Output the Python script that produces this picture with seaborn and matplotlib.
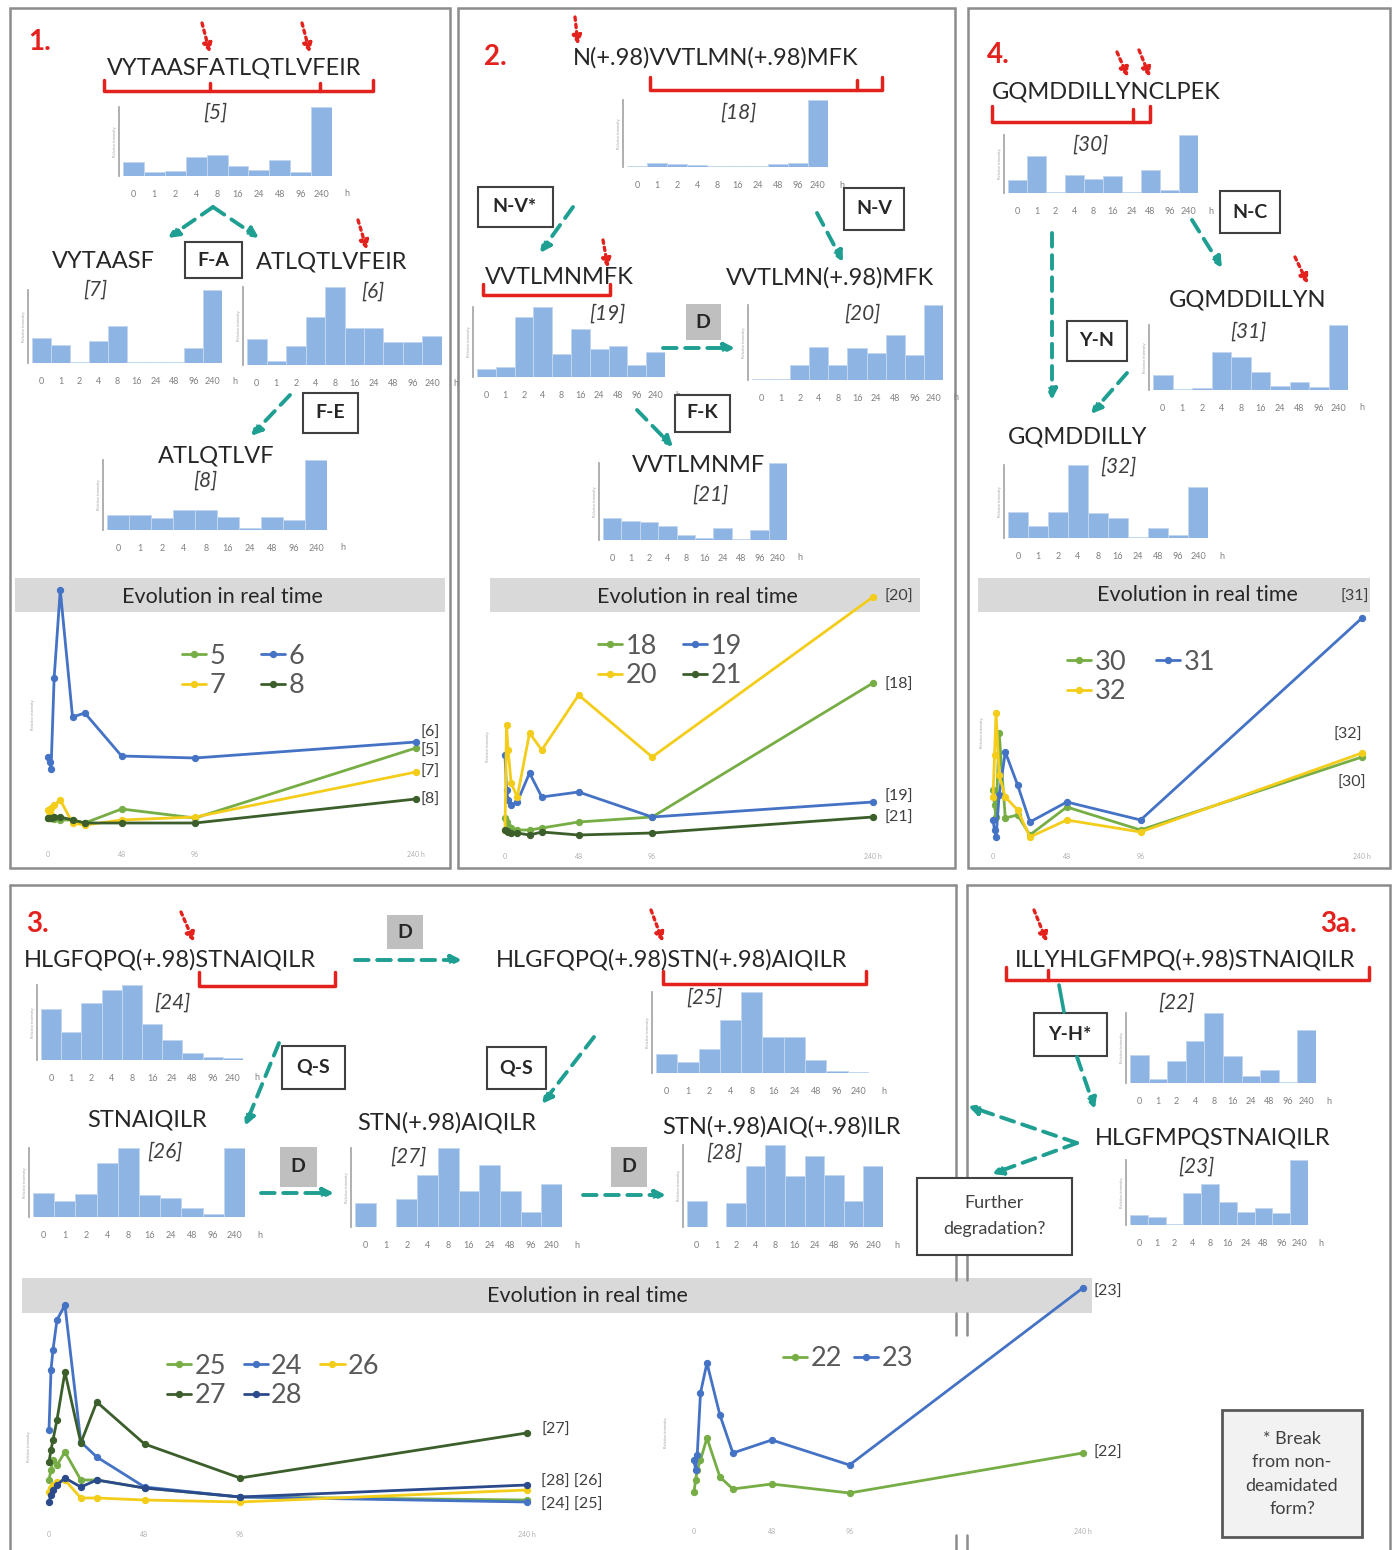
import matplotlib
import matplotlib.pyplot as plt
from matplotlib.patches import Rectangle
import pandas as pd
import seaborn as sns

matplotlib.use('agg')

W, H = 1395, 1550

hours = [0, 1, 2, 4, 8, 16, 24, 48, 96, 240]
hour_labels = ['0', '1', '2', '4', '8', '16', '24', '48', '96', '240']

# relative intensity per sampling time (bar charts)
h5 = [0.20, 0.06, 0.07, 0.28, 0.30, 0.14, 0.08, 0.23, 0.06, 1.0]
h7 = [0.34, 0.25, 0.02, 0.30, 0.50, 0.02, 0.02, 0.01, 0.20, 1.0]
h6 = [0.33, 0.05, 0.25, 0.62, 1.0, 0.47, 0.47, 0.30, 0.30, 0.37]
h8 = [0.21, 0.21, 0.17, 0.28, 0.28, 0.19, 0.03, 0.19, 0.15, 1.0]
h18 = [0.02, 0.06, 0.05, 0.03, 0.01, 0.01, 0.02, 0.05, 0.06, 1.0]
h19 = [0.12, 0.14, 0.86, 1.0, 0.33, 0.69, 0.40, 0.45, 0.17, 0.36]
h20 = [0.01, 0.01, 0.20, 0.44, 0.20, 0.43, 0.36, 0.60, 0.33, 1.0]
h21 = [0.28, 0.25, 0.24, 0.18, 0.07, 0.02, 0.15, 0.01, 0.13, 1.0]
h30 = [0.23, 0.63, 0.02, 0.31, 0.25, 0.29, 0.02, 0.40, 0.05, 1.0]
h31 = [0.23, 0.01, 0.03, 0.59, 0.50, 0.27, 0.06, 0.12, 0.04, 1.0]
h32 = [0.36, 0.16, 0.36, 1.0, 0.34, 0.27, 0.01, 0.14, 0.04, 0.70]
h24 = [0.68, 0.38, 0.76, 0.93, 1.0, 0.48, 0.27, 0.10, 0.04, 0.03]
h25 = [0.24, 0.14, 0.30, 0.66, 1.0, 0.44, 0.44, 0.16, 0.02, 0.01]
h26 = [0.35, 0.23, 0.34, 0.78, 1.0, 0.32, 0.28, 0.13, 0.04, 1.0]
h27 = [0.30, 0.0, 0.35, 0.66, 1.0, 0.45, 0.79, 0.45, 0.19, 0.54]
h28 = [0.32, 0.0, 0.29, 0.74, 1.0, 0.62, 0.87, 0.63, 0.32, 0.74]
h22 = [0.40, 0.06, 0.31, 0.60, 1.0, 0.38, 0.10, 0.19, 0.01, 0.76]
h23 = [0.15, 0.13, 0.02, 0.49, 0.63, 0.36, 0.20, 0.26, 0.18, 1.0]

# evolution in real time (arbitrary intensity units)
s5 = [12, 14, 13, 11, 10, 10, 7, 21, 12, 82]
s6 = [73, 68, 61, 152, 240, 113, 117, 74, 72, 88]
s7 = [20, 17, 22, 25, 30, 7, 5, 10, 13, 58]
s8 = [12, 12, 12, 13, 13, 10, 7, 7, 7, 31]

s18 = [22, 18, 14, 12, 10, 10, 12, 18, 23, 157]
s19 = [85, 50, 40, 35, 38, 67, 43, 48, 23, 38]
s20 = [10, 115, 90, 57, 43, 107, 90, 145, 83, 243]
s21 = [10, 9, 8, 7, 7, 5, 8, 5, 7, 23]

s30 = [55, 40, 28, 112, 27, 30, 10, 38, 15, 88]
s31 = [25, 15, 8, 50, 93, 60, 23, 43, 25, 227]
s32 = [48, 90, 132, 70, 48, 35, 8, 25, 13, 92]

s24 = [80, 140, 160, 190, 205, 68, 53, 23, 13, 8]
s25 = [30, 40, 50, 45, 58, 30, 30, 22, 13, 10]
s26 = [18, 22, 25, 28, 30, 12, 12, 10, 8, 20]
s27 = [48, 60, 70, 90, 138, 67, 108, 66, 32, 77]
s28 = [8, 15, 20, 25, 32, 23, 30, 22, 13, 25]

s22 = [8, 20, 30, 40, 62, 23, 11, 16, 7, 47]
s23 = [40, 30, 45, 107, 137, 85, 47, 60, 35, 212]

BAR = '#8db4e2'
BAR_EDGE = '#c3d6ef'
GREEN = '#77ad45'
BLUE = '#4472c4'
YELLOW = '#f3cd19'
DKGREEN = '#3b5e2b'
DKBLUE = '#2b4a8b'
RED = '#e3211d'
TEAL = '#1f9e92'
INK = '#262626'
GREYBAR = '#d9d9d9'

sns.set_theme(style='white')
plt.rcParams['font.family'] = ['Lato', 'DejaVu Sans']

fig = plt.figure(figsize=(W / 100, H / 100), dpi=100)

bg = fig.add_axes([0, 0, 1, 1])
bg.set_xlim(0, W)
bg.set_ylim(H, 0)
bg.axis('off')


def px_axes(l, r, t, b):
    ax = fig.add_axes([l / W, 1 - b / H, (r - l) / W, (b - t) / H])
    ax.patch.set_alpha(0)
    return ax


def histogram(values, l, r, t, b):
    ax = px_axes(l, r, t, b)
    df = pd.DataFrame({'time': hour_labels, 'intensity': values})
    sns.barplot(data=df, x='time', y='intensity', order=hour_labels, color=BAR,
                saturation=1, width=1.0, edgecolor=BAR_EDGE, linewidth=0.7, ax=ax)
    ax.set_xlim(-0.5, 9.5)
    ax.set_ylim(0, 1)
    ax.set_xlabel('')
    ax.set_ylabel('Relative intensity', fontsize=3, color='#a0a0a0', labelpad=1)
    ax.set_yticks([])
    ax.tick_params(axis='x', length=0, pad=10, labelsize=6.5, labelcolor='#808080')
    for side in ['top', 'right', 'bottom']:
        ax.spines[side].set_visible(False)
    ax.spines['left'].set_color('#a6a6a6')
    ax.spines['left'].set_position(('outward', 3))
    ax.annotate('h', xy=(10.2, 0), xycoords=('data', 'axes fraction'), xytext=(0, -18),
                textcoords='offset pixels', ha='center', va='center', fontsize=6.5,
                color='#808080', annotation_clip=False)
    return ax


def timeline(series, colors, names, order, x0, slope, base, top, tick_y, legend_xy, ncol, colsp):
    pad_l, pad_r = 12, 14
    ax = px_axes(x0 - pad_l, x0 + 240 * slope + pad_r, base - top - 8, base + 6)
    for vals, col, name in zip(series, colors, names):
        sns.lineplot(x=hours, y=vals, color=col, marker='o', markersize=4.5,
                     markeredgecolor=col, linewidth=2.0, label=name, ax=ax)
    ax.set_xlim(-pad_l / slope, 240 + pad_r / slope)
    ax.set_ylim(-6, top + 8)
    ax.set_xticks([0, 48, 96, 240])
    ax.set_xticklabels(['0', '48', '96', '240 h'])
    ax.tick_params(axis='x', length=0, pad=(tick_y - base - 10) / 1.389,
                   labelsize=5, labelcolor='#b0b0b0')
    ax.set_yticks([])
    ax.set_xlabel('')
    ax.set_ylabel('')
    sns.despine(ax=ax, left=True, bottom=True)
    handles, labels = ax.get_legend_handles_labels()
    ax.legend([handles[i] for i in order], [labels[i] for i in order], loc='center',
              bbox_to_anchor=(legend_xy[0] / W, 1 - legend_xy[1] / H),
              bbox_transform=fig.transFigure, ncol=ncol, frameon=False, fontsize=19.5,
              handlelength=0.9, handletextpad=0.12, columnspacing=colsp,
              labelspacing=0.18, labelcolor='#595959', borderpad=0)
    return ax


# ---- backgrounds: panel frames and grey headers
FRAME = '#8c8c8c'
for (l, r, t, b) in [(10, 450, 8, 868), (458, 955, 8, 868), (968, 1390, 8, 868)]:
    bg.add_patch(Rectangle((l, t), r - l, b - t, fill=False, edgecolor=FRAME, lw=1.8))
bg.plot([10, 956], [885, 885], color=FRAME, lw=1.8)
bg.plot([967, 1390], [885, 885], color=FRAME, lw=1.8)
bg.plot([10, 10], [885, 1560], color=FRAME, lw=1.8)
bg.plot([1390, 1390], [885, 1560], color=FRAME, lw=1.8)
for xb in [956, 967]:
    for (y1, y2) in [(885, 1280), (1313, 1335), (1535, 1560)]:
        bg.plot([xb, xb], [y1, y2], color=FRAME, lw=1.8)

for (l, r, t, b) in [(15, 445, 578, 612), (490, 920, 578, 612), (978, 1370, 578, 612),
                     (22, 1092, 1278, 1313)]:
    bg.add_patch(Rectangle((l, t), r - l, b - t, facecolor=GREYBAR, edgecolor='none'))

# ---- bar charts
histogram(h5, 123, 332, 107, 176)
histogram(h7, 32, 222, 290, 363)
histogram(h6, 247, 442, 287, 365)
histogram(h8, 107, 327, 460, 530)
histogram(h18, 627, 828, 100, 167)
histogram(h19, 477, 665, 307, 377)
histogram(h20, 752, 943, 305, 380)
histogram(h21, 603, 787, 463, 540)
histogram(h30, 1008, 1198, 135, 193)
histogram(h31, 1153, 1348, 325, 390)
histogram(h32, 1008, 1208, 465, 538)
histogram(h24, 41, 243, 985, 1060)
histogram(h26, 33, 245, 1148, 1217)
histogram(h27, 355, 562, 1148, 1227)
histogram(h25, 656, 869, 992, 1073)
histogram(h28, 687, 883, 1145, 1227)
histogram(h22, 1130, 1316, 1013, 1083)
histogram(h23, 1130, 1308, 1160, 1225)

# ---- evolution in real time
timeline([s5, s6, s7, s8], [GREEN, BLUE, YELLOW, DKGREEN], ['5', '6', '7', '8'], [0, 2, 1, 3],
         48, 1.533, 830, 240, 855, (243, 671), 2, 1.3)
timeline([s18, s19, s20, s21], [GREEN, BLUE, YELLOW, DKGREEN], ['18', '19', '20', '21'], [0, 2, 1, 3],
         505, 1.533, 840, 243, 857, (670, 661), 2, 0.95)
timeline([s30, s31, s32], [GREEN, BLUE, YELLOW], ['30', '31', '32'], [0, 2, 1],
         993, 1.5375, 845, 227, 857, (1141, 677), 2, 1.1)
timeline([s25, s24, s26, s27, s28], [GREEN, BLUE, YELLOW, DKGREEN, DKBLUE],
         ['25', '24', '26', '27', '28'], [0, 3, 1, 4, 2],
         49, 1.99, 1510, 205, 1535, (273, 1381), 3, 0.65)
timeline([s22, s23], [GREEN, BLUE], ['22', '23'], [0, 1],
         694, 1.62, 1500, 212, 1532, (848, 1359), 2, 0.45)

# ---- foreground annotations
fg = fig.add_axes([0, 0, 1, 1])
fg.set_xlim(0, W)
fg.set_ylim(H, 0)
fg.axis('off')
fg.patch.set_alpha(0)

SEQ = 17


def seq(x, y, s, size=SEQ):
    fg.text(x, y, s, ha='center', va='center', fontsize=size, color=INK)


def tag(x, y, s):
    fg.text(x, y, s, ha='center', va='center', fontsize=15, style='italic', color='#404040')


def box(x, y, w, h, s, grey=False):
    fc = '#bfbfbf' if grey else 'white'
    ec = 'none' if grey else '#404040'
    fg.add_patch(Rectangle((x - w / 2, y - h / 2), w, h, facecolor=fc, edgecolor=ec, lw=1.5))
    fg.text(x, y, s, ha='center', va='center', fontsize=14, fontweight='bold', color=INK)


def teal(x1, y1, x2, y2):
    fg.annotate('', xy=(x2, y2), xytext=(x1, y1),
                arrowprops=dict(arrowstyle='-|>', color=TEAL, lw=2.8, linestyle=(0, (3.5, 2.2)),
                                mutation_scale=15, shrinkA=0, shrinkB=0))


def cut(x1, y1, x2, y2):
    fg.annotate('', xy=(x2, y2), xytext=(x1, y1),
                arrowprops=dict(arrowstyle='-|>', color=RED, lw=2.4, linestyle=(0, (1, 1.2)),
                                mutation_scale=13, shrinkA=0, shrinkB=0))


def bracket(x1, x2, top, bottom, mids=()):
    fg.plot([x1, x1, x2, x2], [top, bottom, bottom, top], color=RED, lw=2.5)
    for m in mids:
        fg.plot([m, m], [bottom, top + 3], color=RED, lw=2.5)


def label(x, y, s, size=11.5):
    fg.text(x, y, s, ha='center', va='center', fontsize=size, color='#404040')


def tiny_ylabel(x, y):
    fg.text(x, y, 'Relative intensity', rotation=90, ha='center', va='center',
            fontsize=3, color='#a0a0a0')


def panel_no(x, y, s):
    fg.text(x, y, s, ha='center', va='center', fontsize=20, fontweight='bold', color=RED)


# panel 1
panel_no(40, 42, '1.')
seq(234, 68, 'VYTAASFATLQTLVFEIR')
bracket(104, 373, 80, 91, mids=(210, 320))
cut(202, 23, 210, 53)
cut(302, 23, 310, 53)
tag(215, 113, '[5]')
teal(213, 207, 168, 238)
teal(213, 207, 259, 238)
box(213, 260, 57, 36, 'F-A')
seq(103, 262, 'VYTAASF')
tag(95, 290, '[7]')
seq(332, 262, 'ATLQTLVFEIR')
cut(358, 220, 367, 250)
tag(373, 292, '[6]')
teal(290, 395, 251, 436)
box(330, 413, 55, 40, 'F-E')
seq(216, 456, 'ATLQTLVF')
tag(205, 481, '[8]')
fg.text(222, 597, 'Evolution in real time', ha='center', va='center', fontsize=15.5, color=INK)
for x, y, s in [(430, 733, '[6]'), (430, 751, '[5]'), (430, 772, '[7]'), (430, 800, '[8]')]:
    label(x, y, s)
tiny_ylabel(33, 715)

# panel 2
panel_no(495, 57, '2.')
seq(716, 58, 'N(+.98)VVTLMN(+.98)MFK')
cut(575, 17, 578, 45)
bracket(650, 882, 77, 90, mids=(857,))
tag(738, 113, '[18]')
box(515, 207, 75, 40, 'N-V*')
teal(573, 207, 540, 253)
box(874, 209, 60, 42, 'N-V')
teal(817, 213, 843, 262)
seq(559, 278, 'VVTLMNMFK')
bracket(483, 610, 284, 295)
cut(603, 240, 608, 268)
tag(607, 314, '[19]')
box(703, 322, 35, 36, 'D', grey=True)
teal(663, 348, 735, 348)
seq(830, 278, 'VVTLMN(+.98)MFK')
tag(862, 314, '[20]')
box(702, 413, 55, 37, 'F-K')
teal(637, 410, 673, 447)
seq(699, 466, 'VVTLMNMF')
tag(710, 495, '[21]')
fg.text(697, 597, 'Evolution in real time', ha='center', va='center', fontsize=15.5, color=INK)
for x, y, s in [(899, 597, '[20]'), (899, 685, '[18]'), (899, 797, '[19]'), (899, 818, '[21]')]:
    label(x, y, s)
tiny_ylabel(488, 747)

# panel 4
panel_no(998, 55, '4.')
seq(1106, 92, 'GQMDDILLYNCLPEK')
cut(1117, 52, 1128, 77)
cut(1139, 50, 1150, 77)
bracket(992, 1150, 106, 122, mids=(1133,))
tag(1090, 145, '[30]')
box(1250, 212, 60, 42, 'N-C')
teal(1192, 220, 1222, 268)
teal(1052, 233, 1052, 400)
cut(1295, 257, 1308, 284)
seq(1248, 300, 'GQMDDILLYN')
tag(1248, 332, '[31]')
box(1097, 341, 60, 40, 'Y-N')
teal(1127, 373, 1091, 414)
seq(1078, 437, 'GQMDDILLY')
tag(1118, 467, '[32]')
fg.text(1197, 595, 'Evolution in real time', ha='center', va='center', fontsize=15.5, color=INK)
for x, y, s in [(1355, 597, '[31]'), (1348, 735, '[32]'), (1352, 783, '[30]')]:
    label(x, y, s)
tiny_ylabel(982, 733)

# panel 3
panel_no(38, 924, '3.')
seq(170, 960, 'HLGFQPQ(+.98)STNAIQILR')
cut(181, 912, 194, 942)
bracket(199, 335, 972, 986)
box(405, 932, 36, 34, 'D', grey=True)
teal(355, 960, 462, 960)
seq(672, 960, 'HLGFQPQ(+.98)STN(+.98)AIQILR')
cut(651, 910, 663, 942)
bracket(663, 866, 971, 984)
tag(172, 1003, '[24]')
tag(704, 998, '[25]')
box(313, 1067, 63, 43, 'Q-S')
teal(279, 1043, 245, 1126)
box(516, 1068, 59, 42, 'Q-S')
teal(594, 1037, 542, 1104)
seq(147, 1120, 'STNAIQILR')
tag(165, 1152, '[26]')
seq(447, 1123, 'STN(+.98)AIQILR')
tag(408, 1157, '[27]')
seq(781, 1127, 'STN(+.98)AIQ(+.98)ILR')
tag(724, 1153, '[28]')
box(298, 1167, 37, 40, 'D', grey=True)
teal(261, 1193, 334, 1193)
box(629, 1167, 36, 40, 'D', grey=True)
teal(583, 1195, 666, 1195)
fg.text(587, 1296, 'Evolution in real time', ha='center', va='center', fontsize=15.5, color=INK)
label(556, 1430, '[27]')
label(572, 1482, '[28] [26]')
label(572, 1505, '[24] [25]')
tiny_ylabel(29, 1447)

# panel 3a
panel_no(1339, 924, '3a.')
seq(1185, 960, 'ILLYHLGFMPQ(+.98)STNAIQILR')
cut(1034, 910, 1047, 942)
bracket(1006, 1369, 967, 980, mids=(1048,))
tag(1176, 1003, '[22]')
fg.plot([1059, 1064], [985, 1012], color=TEAL, lw=2.6)
box(1070, 1034, 73, 43, 'Y-H*')
teal(1077, 1057, 1095, 1109)
seq(1213, 1138, 'HLGFMPQSTNAIQILR')
tag(1196, 1167, '[23]')
teal(1077, 1143, 968, 1106)
teal(1077, 1143, 992, 1174)
fg.add_patch(Rectangle((917, 1178), 155, 77, facecolor='white', edgecolor='#404040', lw=1.5))
fg.text(994, 1216, 'Further\ndegradation?', ha='center', va='center', fontsize=13,
        color='#404040', linespacing=1.7)
label(1108, 1292, '[23]')
label(1108, 1453, '[22]')
tiny_ylabel(666, 1433)
fg.add_patch(Rectangle((1222, 1410), 140, 127, facecolor='#f2f2f2', edgecolor='#595959', lw=2))
fg.text(1292, 1474, '* Break\nfrom non-\ndeamidated\nform?', ha='center', va='center',
        fontsize=13, color='#404040', linespacing=1.55)

fig.savefig('out.png', dpi=100)
